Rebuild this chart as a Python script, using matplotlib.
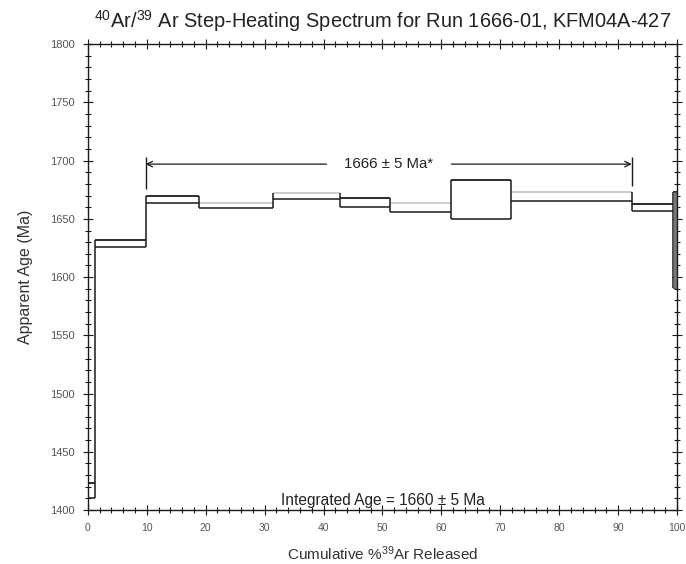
import matplotlib
matplotlib.use("Agg")
import matplotlib.pyplot as plt
from matplotlib.ticker import MultipleLocator

plt.rcParams['font.family'] = ['Liberation Sans', 'DejaVu Sans']
plt.rcParams['mathtext.fontset'] = 'custom'
plt.rcParams['mathtext.rm'] = 'Liberation Sans'
plt.rcParams['mathtext.it'] = 'Liberation Sans:italic'

# step boundaries (cumulative % 39Ar) and age envelopes (Ma)
step_edges = [0, 1.2, 9.8, 18.8, 31.4, 42.8, 51.3, 61.6, 71.8, 92.3, 99.3, 100]
age_top = [1423, 1632, 1670, 1664, 1672, 1668, 1664, 1683, 1673, 1663, 1673]
age_bot = [1410, 1626, 1664, 1659, 1667, 1660, 1656, 1650, 1665, 1657, 1591]
# top edge drawn light grey on some steps in the original
top_grey = [False, False, False, True, True, False, True, False, True, False, False]

plateau_start = 9.8
plateau_end = 92.3
plateau_text = "1666 \u00b1 5 Ma*"
integrated_text = "Integrated Age = 1660 \u00b1 5 Ma"

fig = plt.figure(figsize=(6.86, 5.64), dpi=100)
ax = fig.add_axes([0.128, 0.0957, 0.859, 0.826])

ink = '#1a1a1a'
grey = '#c8c8c8'

n = len(age_top)
lefts = step_edges[:-1]
rights = step_edges[1:]

# bottoms and tops of each step
ax.hlines(age_bot, lefts, rights, colors=ink, lw=1.1)
ax.hlines(age_top, lefts, rights,
          colors=[grey if g else ink for g in top_grey], lw=1.3)

# vertical sides / connectors
for i, x in enumerate(step_edges):
    lo = [age_bot[j] for j in (i - 1, i) if 0 <= j < n]
    hi = [age_top[j] for j in (i - 1, i) if 0 <= j < n]
    ax.vlines(x, min(lo), max(hi), colors=ink, lw=1.1)
# last narrow step appears as a thick grey bar
ax.vlines((step_edges[-2] + step_edges[-1]) / 2, age_bot[-1], age_top[-1],
          colors='#777777', lw=2.5)

# plateau marker
ax.vlines([plateau_start, plateau_end], [1675.7, 1678.6], 1703, colors=ink, lw=1.0)
ax.annotate('', xy=(plateau_start, 1697), xytext=(40.5, 1697),
            arrowprops=dict(arrowstyle='->', color=ink, lw=0.9, shrinkA=0, shrinkB=0))
ax.annotate('', xy=(plateau_end, 1697), xytext=(61.7, 1697),
            arrowprops=dict(arrowstyle='->', color=ink, lw=0.9, shrinkA=0, shrinkB=0))
ax.text(51, 1697, plateau_text, ha='center', va='center', fontsize=10.8, color='#222222')

ax.text(50, 1402, integrated_text, ha='center', va='bottom', fontsize=11.2, color='#222222')

ax.set_xlim(0, 100)
ax.set_ylim(1400, 1800)
ax.xaxis.set_major_locator(MultipleLocator(10))
ax.xaxis.set_minor_locator(MultipleLocator(2))
ax.yaxis.set_major_locator(MultipleLocator(50))
ax.yaxis.set_minor_locator(MultipleLocator(10))
ax.tick_params(which='both', direction='inout', top=True, right=True,
               color=ink, width=0.8)
ax.tick_params(which='major', length=7, labelcolor='#555555', pad=6)
ax.tick_params(axis='y', which='major', labelsize=8)
ax.tick_params(axis='x', which='major', labelsize=7.5)
ax.tick_params(which='minor', length=4)
for s in ax.spines.values():
    s.set_color(ink)
    s.set_linewidth(1.0)

ax.set_xlabel('Cumulative %$^{39}$Ar Released', fontsize=11, color='#333333', labelpad=8)
ax.set_ylabel('Apparent Age (Ma)', fontsize=11.5, color='#333333', labelpad=12)
ax.set_title('$^{40}$Ar/$^{39}$ Ar Step-Heating Spectrum for Run 1666-01, KFM04A-427',
             fontsize=14.4, color='#222222', pad=12)

fig.savefig('out.png', dpi=100)
